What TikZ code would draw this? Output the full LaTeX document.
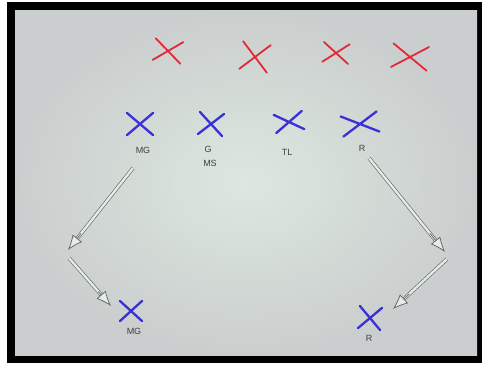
\documentclass[tikz,border=0pt]{standalone}
\usepackage{fontspec}
\setmainfont{Liberation Sans}
\usetikzlibrary{shapes.misc,arrows.meta,calc}
\definecolor{board}{HTML}{DCE8DF}
\definecolor{boardedge}{HTML}{CBCECE}
\definecolor{inkred}{HTML}{E02A3A}
\definecolor{inkblue}{HTML}{3A30D8}
\definecolor{pencil}{HTML}{5E5E5E}
\begin{document}
\begin{tikzpicture}[x=1pt,y=-1pt,
  redx/.style={cross out,draw=inkred,line width=1.8pt,line cap=round,inner sep=0pt},
  bluex/.style={cross out,draw=inkblue,line width=2.3pt,line cap=round,inner sep=0pt},
  lbl/.style={text=black!75,font=\fontsize{9}{10}\selectfont,inner sep=0pt},
  hollow/.style={draw=pencil,double=board!80!white,double distance=2.4pt,line width=0.6pt,shorten >=8pt},
  tip/.style={draw=pencil,line width=0.7pt,-{Latex[length=15pt,width=12pt,fill=board!80!white]}}]
\useasboundingbox (0,0) rectangle (482,368);
\fill[white] (0,0) rectangle (482,368);
\fill[black] (7,2) rectangle (482,363);
\shade[inner color=board,outer color=boardedge] (15,10) rectangle (477,355);
% red marks
\node[redx,minimum width=26pt,minimum height=20pt,rotate=-8] (r1) at (168,51) {};
\node[redx,minimum width=26pt,minimum height=26pt,rotate=-8] (r2) at (255,57) {};
\node[redx,minimum width=24pt,minimum height=18pt,rotate=-5] (r3) at (336,53) {};
\node[redx,minimum width=34pt,minimum height=22pt,rotate=-6] (r4) at (410,57) {};
% blue marks
\node[bluex,minimum width=24pt,minimum height=20pt] (b1) at (140,124) {};
\node[bluex,minimum width=22pt,minimum height=20pt,rotate=-5] (b2) at (211,124) {};
\node[bluex,minimum width=26pt,minimum height=16pt,rotate=8] (b3) at (289,122) {};
\node[bluex,minimum width=34pt,minimum height=18pt,rotate=8] (b4) at (360,124) {};
\node[bluex,minimum width=20pt,minimum height=18pt] (b5) at (131,311) {};
\node[bluex,minimum width=20pt,minimum height=20pt,rotate=-5] (b6) at (370,318) {};
% labels
\node[lbl] (l1) at (143,150) {MG};
\node[lbl] (l2a) at (208,149) {G};
\node[lbl] (l2b) at (210,163) {MS};
\node[lbl] (l3) at (287,152) {TL};
\node[lbl] (l4) at (362,148) {R};
\node[lbl] (l5) at (134,331) {MG};
\node[lbl] (l6) at (369,338) {R};
% arrows
\coordinate (a1s) at (133,168);
\coordinate (a1e) at (68,250);
\coordinate (a2s) at (69,258);
\coordinate (a2e) at (111,306);
\coordinate (c1s) at (369,158);
\coordinate (c1e) at (445,252);
\coordinate (c2s) at (447,259);
\coordinate (c2e) at (393,309);
\draw[hollow] (a1s) -- (a1e);
\draw[hollow] (a2s) -- (a2e);
\draw[hollow] (c1s) -- (c1e);
\draw[hollow] (c2s) -- (c2e);
\draw[tip] ($(a1s)!0.8!(a1e)$) -- (a1e);
\draw[tip] ($(a2s)!0.7!(a2e)$) -- (a2e);
\draw[tip] ($(c1s)!0.8!(c1e)$) -- (c1e);
\draw[tip] ($(c2s)!0.7!(c2e)$) -- (c2e);
\end{tikzpicture}
\end{document}
